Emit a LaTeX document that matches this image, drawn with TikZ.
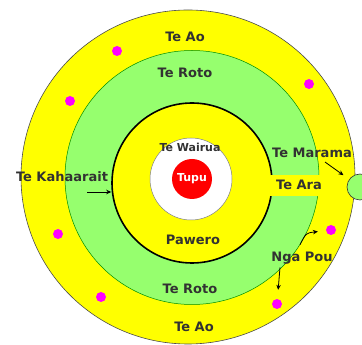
\documentclass[tikz,border=0pt]{standalone}
\usepackage{fontspec}
\setmainfont{DejaVu Sans}
\usepackage{tikz}
\usetikzlibrary{arrows.meta, positioning, shapes, calc}

\definecolor{aoyellow}{RGB}{255,255,0}
\definecolor{rotogreen}{RGB}{150,255,110}
\definecolor{poupink}{RGB}{255,0,255}
\definecolor{tupured}{RGB}{255,0,0}
\definecolor{lbltext}{RGB}{50,50,50}

\tikzset{
  ring/.style={draw, circle, inner sep=0pt},
  lbl/.style={text=lbltext, font=\fontsize{13}{15}\selectfont\bfseries, inner sep=1pt},
  pou/.style={circle, fill=poupink, inner sep=0pt, minimum size=10pt},
  arr/.style={-{Stealth[length=5pt,width=4.5pt]}, line width=0.8pt, black}
}

\begin{document}
\begin{tikzpicture}[x=1pt, y=1pt]
  \useasboundingbox (0,0) rectangle (362,345);

  % rings, outside to inside
  \node[ring, draw=black!70, line width=0.6pt, fill=aoyellow, minimum size=334pt] (ao) at (188,168) {};
  \node[ring, draw=green!55!black, line width=0.5pt, fill=rotogreen, minimum size=254pt] (roto) at (192,167.5) {};
  \node[ring, draw=black, line width=1.6pt, fill=aoyellow, minimum size=160pt] (pawero) at (192,162) {};
  \fill[aoyellow] (262,149) rectangle (322,170);
  \node[ring, draw=black!50, line width=0.5pt, fill=white, minimum size=82pt] (wairua) at (191,166) {};
  \node[circle, fill=tupured, inner sep=0pt, minimum size=40pt, text=white,
        font=\fontsize{11}{13}\selectfont\bfseries] (tupu) at (192,166) {Tupu};
  \node[ring, draw=black!80, line width=0.6pt, fill=rotogreen, minimum size=26pt] (marama) at (360,158) {};

  % nga pou
  \foreach \n/\x/\y in {p1/117/294, p2/309/261, p3/70/244, p4/58/111, p5/331/115, p6/101/48, p7/277/41}
    \node[pou] (\n) at (\x,\y) {};

  % labels
  \node[lbl] (aotop) at (185,308) {Te Ao};
  \node[lbl] (rototop) at (185,272) {Te Roto};
  \node[lbl, font=\fontsize{11}{13}\selectfont\bfseries] (wairuatxt) at (190,198) {Te Wairua};
  \node[lbl] (kaha) at (62,168) {Te Kahaarait};
  \node[lbl] (maramatxt) at (312,192) {Te Marama};
  \node[lbl] (ara) at (299,160) {Te Ara};
  \node[lbl] (pawerotxt) at (193,105) {Pawero};
  \node[lbl] (poutxt) at (302,87) {Nga Pou};
  \node[lbl] (rotobot) at (190,56) {Te Roto};
  \node[lbl] (aobot) at (194,18) {Te Ao};

  % arrows
  \coordinate (kahastart) at (87,153);
  \draw[arr] (kahastart) -- (pawero.west |- kahastart);
  \draw[arr, shorten >=7pt] ([xshift=13pt,yshift=-3pt]maramatxt.south) -- (marama);
  \draw[arr, shorten >=8pt] ([xshift=-2pt,yshift=6pt]poutxt.north) .. controls (306,112) .. (p5);
  \draw[arr, shorten >=9pt] ([xshift=-22pt,yshift=-2pt]poutxt.south) -- (p7);
\end{tikzpicture}
\end{document}
